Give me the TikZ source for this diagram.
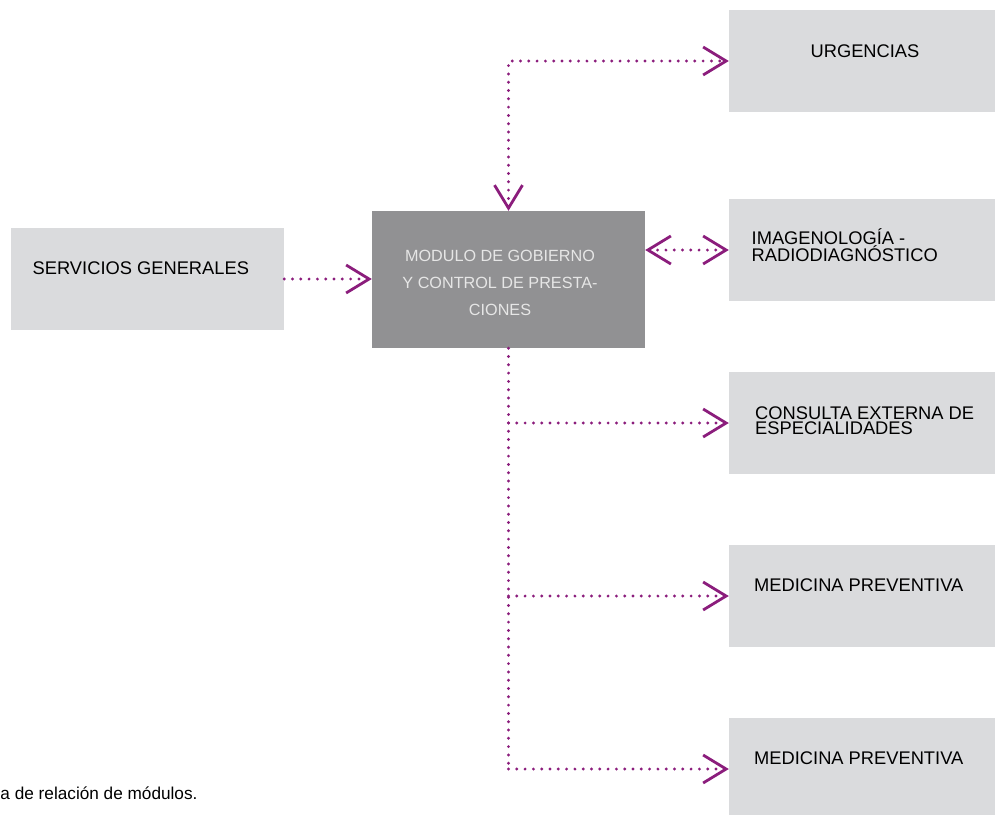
\documentclass[tikz,border=0pt]{standalone}
\usepackage{fontspec}
\setmainfont{Liberation Sans}
\usetikzlibrary{arrows.meta}
\definecolor{plum}{HTML}{8B1D7C}
\definecolor{boxgray}{HTML}{DADBDD}
\definecolor{midgray}{HTML}{919193}
\definecolor{ctext}{HTML}{E6E6E6}
\newcommand\boxfont{\fontsize{18.3}{15.5}\selectfont}
\newcommand\cenfont{\fontsize{16.2}{27}\selectfont}
\newcommand\capfont{\fontsize{17.2}{20}\selectfont}
\tikzset{pbarb/.tip={Straight Barb[length=23pt,width=28pt,line width=2.8pt]}}
\begin{document}
\begin{tikzpicture}[x=1pt,y=-1pt,
  lbox/.style={rectangle, fill=boxgray, draw=none, inner sep=0pt, minimum width=266pt, minimum height=102pt},
  cbox/.style={rectangle, fill=midgray, draw=none, inner sep=0pt, minimum width=273pt, minimum height=137pt},
  lab/.style={inner sep=0pt, font=\boxfont, text=black, align=left},
  conn/.style={draw=plum, line width=3.2pt, line cap=round, dash pattern=on 0pt off 8.3pt}
]
\useasboundingbox (0,0) rectangle (995,814);
\clip (0,0) rectangle (995,814);
% boxes
\node[lbox, minimum width=273pt] (serv) at (147.5,279) {};
\node[cbox] (cen) at (508.5,279.5) {};
\node[lbox] (urg) at (862,61) {};
\node[lbox] (ima) at (862,250) {};
\node[lbox] (cons) at (862,423) {};
\node[lbox] (med1) at (862,596) {};
\node[lbox] (med2) at (862,769) {};
% labels
\node[lab, anchor=base west] (servT) at (32.5,274) {SERVICIOS GENERALES};
\node[lab, anchor=base] (urgT) at (865,57) {URGENCIAS};
\node[lab, anchor=base west] (imaT) at (751.5,261.5) {IMAGENOLOGÍA -\\RADIODIAGNÓSTICO};
\node[lab, anchor=base west] (consT) at (755,434.5) {CONSULTA EXTERNA DE\\ESPECIALIDADES};
\node[lab, anchor=base west] (med1T) at (754,591) {MEDICINA PREVENTIVA};
\node[lab, anchor=base west] (med2T) at (754,764) {MEDICINA PREVENTIVA};
\node[inner sep=0pt, font=\cenfont, text=ctext, align=center] (cenT) at (500,283) {MODULO DE GOBIERNO\\Y CONTROL DE PRESTA-\\CIONES};
\node[inner sep=0pt, font=\capfont, anchor=base west] (capT) at (0.3,799.5) {a de relación de módulos.};
% connectors
\coordinate (tr) at (508.5,61);
\coordinate (bt) at (508.5,769);
\draw[conn, {pbarb}-{pbarb}] (cen.north) -- (tr) -- (urg.west);
\draw[conn, -{pbarb}] (serv.east) -- (cen.west |- serv.east);
\draw[conn, {pbarb}-{pbarb}] (cen.east |- ima.west) -- (ima.west);
\draw[conn] (cen.south) -- (bt);
\draw[conn, -{pbarb}] (cen.south |- cons.west) -- (cons.west);
\draw[conn, -{pbarb}] (cen.south |- med1.west) -- (med1.west);
\draw[conn, -{pbarb}] (bt) -- (med2.west);
\end{tikzpicture}
\end{document}
